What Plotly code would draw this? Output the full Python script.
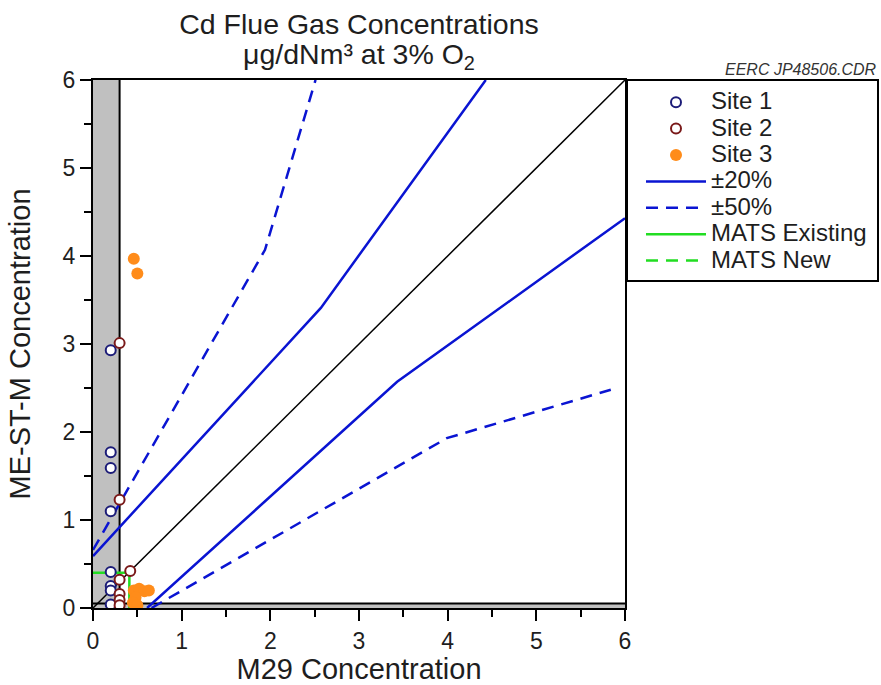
import plotly.graph_objects as go

# ---- data ----
site1_x = [0.20, 0.20, 0.20, 0.20, 0.20, 0.20, 0.20, 0.20]
site1_y = [2.93, 1.77, 1.59, 1.10, 0.41, 0.25, 0.20, 0.04]
site2_x = [0.30, 0.30, 0.42, 0.30, 0.30, 0.30, 0.30]
site2_y = [3.01, 1.23, 0.42, 0.32, 0.16, 0.09, 0.03]
site3_x = [0.46, 0.50, 0.46, 0.52, 0.58, 0.63, 0.48, 0.45, 0.50]
site3_y = [3.97, 3.80, 0.20, 0.22, 0.19, 0.20, 0.12, 0.06, 0.03]

one_to_one_x = [0, 6]
one_to_one_y = [0, 6]
pm20_upper_x = [0.0, 2.57, 4.43]
pm20_upper_y = [0.59, 3.41, 6.0]
pm20_lower_x = [0.61, 3.43, 6.0]
pm20_lower_y = [0.0, 2.57, 4.43]
pm50_upper_x = [0.0, 1.94, 2.51]
pm50_upper_y = [0.66, 4.07, 6.0]
pm50_lower_x = [0.66, 3.99, 5.84]
pm50_lower_y = [0.0, 1.93, 2.48]
mats_existing_x = [0.0, 0.41, 0.41]
mats_existing_y = [0.40, 0.40, 0.0]

detect_limit_x = 0.30
detect_limit_y = 0.05

major_ticks = [0, 1, 2, 3, 4, 5, 6]
tick_text = ["0", "1", "2", "3", "4", "5", "6"]

FONT = "Liberation Sans, Arial, sans-serif"
BLUE = "#0a14d2"
GREEN = "#22dd22"
TXT = "#1e1e1e"


def big(s, px):
    return f"<span style='font-size:{px}px'>{s}</span>"


fig = go.Figure()

# reference lines
fig.add_trace(go.Scatter(x=one_to_one_x, y=one_to_one_y, mode="lines",
                         line=dict(color="black", width=1.5), showlegend=False))
fig.add_trace(go.Scatter(x=pm20_upper_x, y=pm20_upper_y, mode="lines",
                         line=dict(color=BLUE, width=2.5), name=big("±20%", 24),
                         legendrank=4))
fig.add_trace(go.Scatter(x=pm20_lower_x, y=pm20_lower_y, mode="lines",
                         line=dict(color=BLUE, width=2.5), showlegend=False))
fig.add_trace(go.Scatter(x=pm50_upper_x, y=pm50_upper_y, mode="lines",
                         line=dict(color=BLUE, width=2.5, dash="12px,8px"), name=big("±50%", 24),
                         legendrank=5))
fig.add_trace(go.Scatter(x=pm50_lower_x, y=pm50_lower_y, mode="lines",
                         line=dict(color=BLUE, width=2.5, dash="12px,8px"), showlegend=False))
fig.add_trace(go.Scatter(x=mats_existing_x, y=mats_existing_y, mode="lines",
                         line=dict(color=GREEN, width=2.5), name=big("MATS Existing", 24),
                         legendrank=6))
fig.add_trace(go.Scatter(x=[None], y=[None], mode="lines",
                         line=dict(color=GREEN, width=2.5, dash="12px,8px"), name=big("MATS New", 24),
                         legendrank=7))

# data points
fig.add_trace(go.Scatter(x=site1_x, y=site1_y, mode="markers", name=big("Site 1", 24),
                         marker=dict(symbol="circle", size=10, color="white",
                                     line=dict(color="#1c1c78", width=2)),
                         legendrank=1))
fig.add_trace(go.Scatter(x=site2_x, y=site2_y, mode="markers", name=big("Site 2", 24),
                         marker=dict(symbol="circle", size=10, color="white",
                                     line=dict(color="#7a1a1a", width=2)),
                         legendrank=2))
fig.add_trace(go.Scatter(x=site3_x, y=site3_y, mode="markers", name=big("Site 3", 24),
                         marker=dict(symbol="circle", size=12, color="#ff8c1a",
                                     line=dict(color="#ff8c1a", width=0)),
                         legendrank=3))

shapes = [
    dict(type="rect", xref="x", yref="y", x0=0, x1=detect_limit_x, y0=0, y1=6,
         fillcolor="#c0c0c0", line=dict(width=0), layer="below"),
    dict(type="line", xref="x", yref="y", x0=detect_limit_x, x1=detect_limit_x, y0=0, y1=6,
         line=dict(color="black", width=2), layer="below"),
    dict(type="rect", xref="x", yref="y", x0=0, x1=6, y0=0, y1=detect_limit_y,
         fillcolor="#c0c0c0", line=dict(width=0), layer="below"),
    dict(type="line", xref="x", yref="y", x0=0, x1=6, y0=detect_limit_y, y1=detect_limit_y,
         line=dict(color="black", width=2), layer="below"),
    # legend box
    dict(type="rect", xref="paper", yref="paper",
         x0=(627 - 93) / 532, x1=(878 - 93) / 532,
         y0=(608 - 281) / 528, y1=1.0,
         line=dict(color="black", width=2), fillcolor="rgba(0,0,0,0)"),
]

axis_common = dict(
    range=[0, 6], tickvals=major_ticks, ticktext=tick_text,
    ticks="outside", ticklen=11, tickwidth=2, tickcolor="black",
    minor=dict(dtick=0.5, ticks="outside", ticklen=7, tickwidth=2, tickcolor="black",
               showgrid=False),
    showline=True, linecolor="black", linewidth=2, mirror=True,
    showgrid=False, zeroline=False, automargin=False,
    tickfont=dict(family=FONT, size=23, color=TXT),
)

title_text = big("Cd Flue Gas Concentrations", 28.5) + "<br>" + big("μg/dNm³ at 3% O<sub>2</sub>", 28.5)

fig.update_layout(
    width=881, height=685,
    margin=dict(l=93, r=256, t=80, b=77, autoexpand=False),
    plot_bgcolor="white", paper_bgcolor="white",
    font=dict(family=FONT, color=TXT),
    title=dict(text=title_text, xref="paper", x=0.5, xanchor="center",
               yref="container", y=1 - 34 / 685, yanchor="top",
               font=dict(family=FONT, size=23, color=TXT)),
    xaxis=dict(**axis_common,
               title=dict(text="M29 Concentration", standoff=2,
                          font=dict(family=FONT, size=29, color=TXT))),
    yaxis=dict(**axis_common,
               title=dict(text="ME-ST-M Concentration", standoff=23,
                          font=dict(family=FONT, size=29, color=TXT))),
    legend=dict(x=(641 - 93) / 532, xanchor="left", y=1 - 4 / 528, yanchor="top",
                bgcolor="rgba(0,0,0,0)", borderwidth=0, itemwidth=60,
                font=dict(family=FONT, size=18, color=TXT),
                tracegroupgap=0),
    shapes=shapes,
    annotations=[dict(text="<i>EERC JP48506.CDR</i>", xref="paper", yref="paper",
                      x=(879 - 93) / 532, y=1.0, xanchor="right", yanchor="bottom",
                      showarrow=False,
                      font=dict(family=FONT, size=16, color="#333"))],
)

fig.write_html("out.html")
